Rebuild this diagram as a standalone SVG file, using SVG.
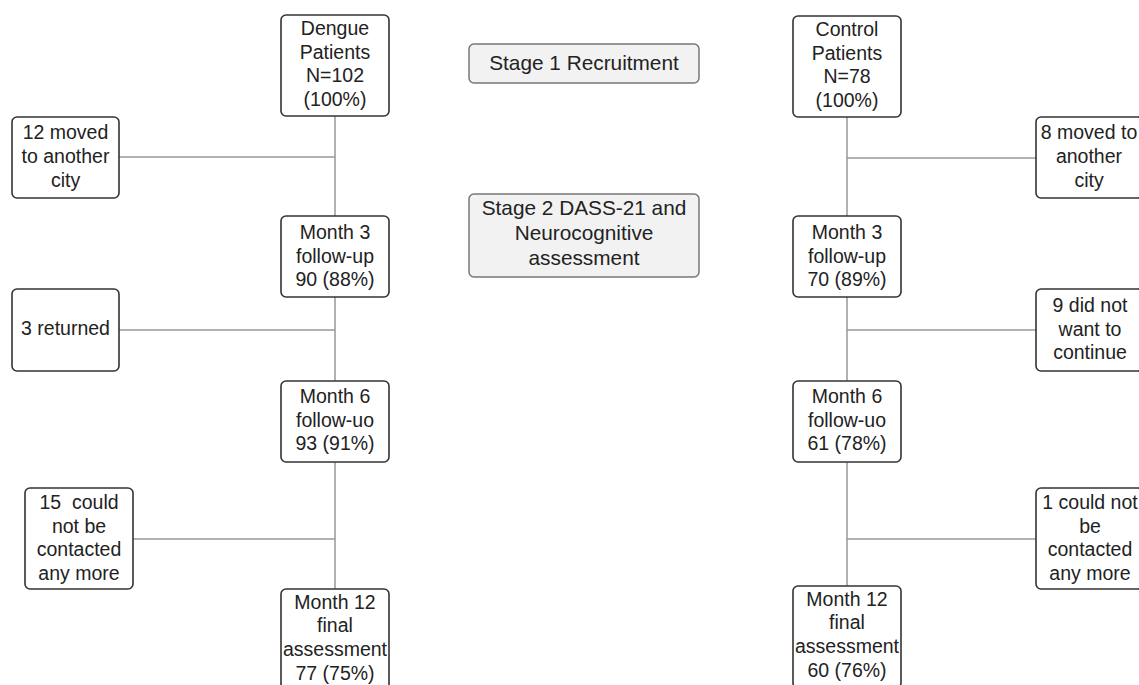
<svg xmlns="http://www.w3.org/2000/svg" width="1139" height="685" viewBox="0 0 1139 685">
<style>
.box{fill:#fff;stroke:#333;stroke-width:1.6}
.stage{fill:#f2f2f2;stroke:#777;stroke-width:1.5}
.t{font-family:"Liberation Sans",Arial,sans-serif;font-size:19.5px;fill:#222;text-anchor:middle}
.ts{font-family:"Liberation Sans",Arial,sans-serif;font-size:20.8px;fill:#222;text-anchor:middle}
.c{stroke:#999;stroke-width:1.5;fill:none}
</style>
<rect width="1139" height="685" fill="#fff"/>
<g id="connectors">
<path class="c" d="M335 116V589M119 157H335M119 330H335M133 539H335"/>
<path class="c" d="M847 117V586M847 158H1036M847 330H1036M847 539H1036"/>
</g>
<g id="stage1"><rect class="stage" x="469" y="44" width="230" height="39" rx="5"/><text class="ts" x="584" y="70">Stage 1 Recruitment</text></g>
<g id="stage2"><rect class="stage" x="469" y="194" width="230" height="83" rx="5"/><text class="ts" x="584" y="215">Stage 2 DASS-21 and</text><text class="ts" x="584" y="240">Neurocognitive</text><text class="ts" x="584" y="265">assessment</text></g>
<g id="dengue"><rect class="box" x="281" y="15" width="108" height="101" rx="5"/><text class="t" x="335" y="35">Dengue</text><text class="t" x="335" y="58.5">Patients</text><text class="t" x="335" y="82">N=102</text><text class="t" x="335" y="105.5">(100%)</text></g>
<g id="d_m3"><rect class="box" x="281" y="216" width="108" height="81" rx="5"/><text class="t" x="335" y="239">Month 3</text><text class="t" x="335" y="262.5">follow-up</text><text class="t" x="335" y="286">90 (88%)</text></g>
<g id="d_m6"><rect class="box" x="281" y="381" width="108" height="81" rx="5"/><text class="t" x="335" y="403">Month 6</text><text class="t" x="335" y="426.5">follow-uo</text><text class="t" x="335" y="450">93 (91%)</text></g>
<g id="d_m12"><rect class="box" x="281" y="589" width="108" height="102" rx="5"/><text class="t" x="335" y="608.5">Month 12</text><text class="t" x="335" y="632">final</text><text class="t" x="335" y="655.5">assessment</text><text class="t" x="335" y="679.5">77 (75%)</text></g>
<g id="d_moved"><rect class="box" x="12" y="117" width="107" height="81" rx="5"/><text class="t" x="65.5" y="139">12 moved</text><text class="t" x="65.5" y="163">to another</text><text class="t" x="65.5" y="187">city</text></g>
<g id="d_returned"><rect class="box" x="12" y="289" width="107" height="82" rx="5"/><text class="t" x="65.5" y="335">3 returned</text></g>
<g id="d_lost"><rect class="box" x="25" y="488" width="108" height="101" rx="5"/><text class="t" x="79" y="509">15&#160; could</text><text class="t" x="79" y="532.5">not be</text><text class="t" x="79" y="556">contacted</text><text class="t" x="79" y="579.5">any more</text></g>
<g id="control"><rect class="box" x="793" y="16" width="108" height="101" rx="5"/><text class="t" x="847" y="36">Control</text><text class="t" x="847" y="59.5">Patients</text><text class="t" x="847" y="83">N=78</text><text class="t" x="847" y="106.5">(100%)</text></g>
<g id="c_m3"><rect class="box" x="793" y="216" width="108" height="81" rx="5"/><text class="t" x="847" y="239">Month 3</text><text class="t" x="847" y="262.5">follow-up</text><text class="t" x="847" y="286">70 (89%)</text></g>
<g id="c_m6"><rect class="box" x="793" y="381" width="108" height="81" rx="5"/><text class="t" x="847" y="403">Month 6</text><text class="t" x="847" y="426.5">follow-uo</text><text class="t" x="847" y="450">61 (78%)</text></g>
<g id="c_m12"><rect class="box" x="793" y="586" width="108" height="102" rx="5"/><text class="t" x="847" y="605.5">Month 12</text><text class="t" x="847" y="629">final</text><text class="t" x="847" y="652.5">assessment</text><text class="t" x="847" y="676.5">60 (76%)</text></g>
<g id="c_moved"><rect class="box" x="1036" y="117" width="107" height="81" rx="5"/><text class="t" x="1089" y="139">8 moved to</text><text class="t" x="1089" y="163">another</text><text class="t" x="1089" y="187">city</text></g>
<g id="c_quit"><rect class="box" x="1036" y="289" width="107" height="82" rx="5"/><text class="t" x="1090" y="312">9 did not</text><text class="t" x="1090" y="335.5">want to</text><text class="t" x="1090" y="359">continue</text></g>
<g id="c_lost"><rect class="box" x="1036" y="488" width="107" height="101" rx="5"/><text class="t" x="1090" y="509">1 could not</text><text class="t" x="1090" y="532.5">be</text><text class="t" x="1090" y="556">contacted</text><text class="t" x="1090" y="579.5">any more</text></g>
</svg>
